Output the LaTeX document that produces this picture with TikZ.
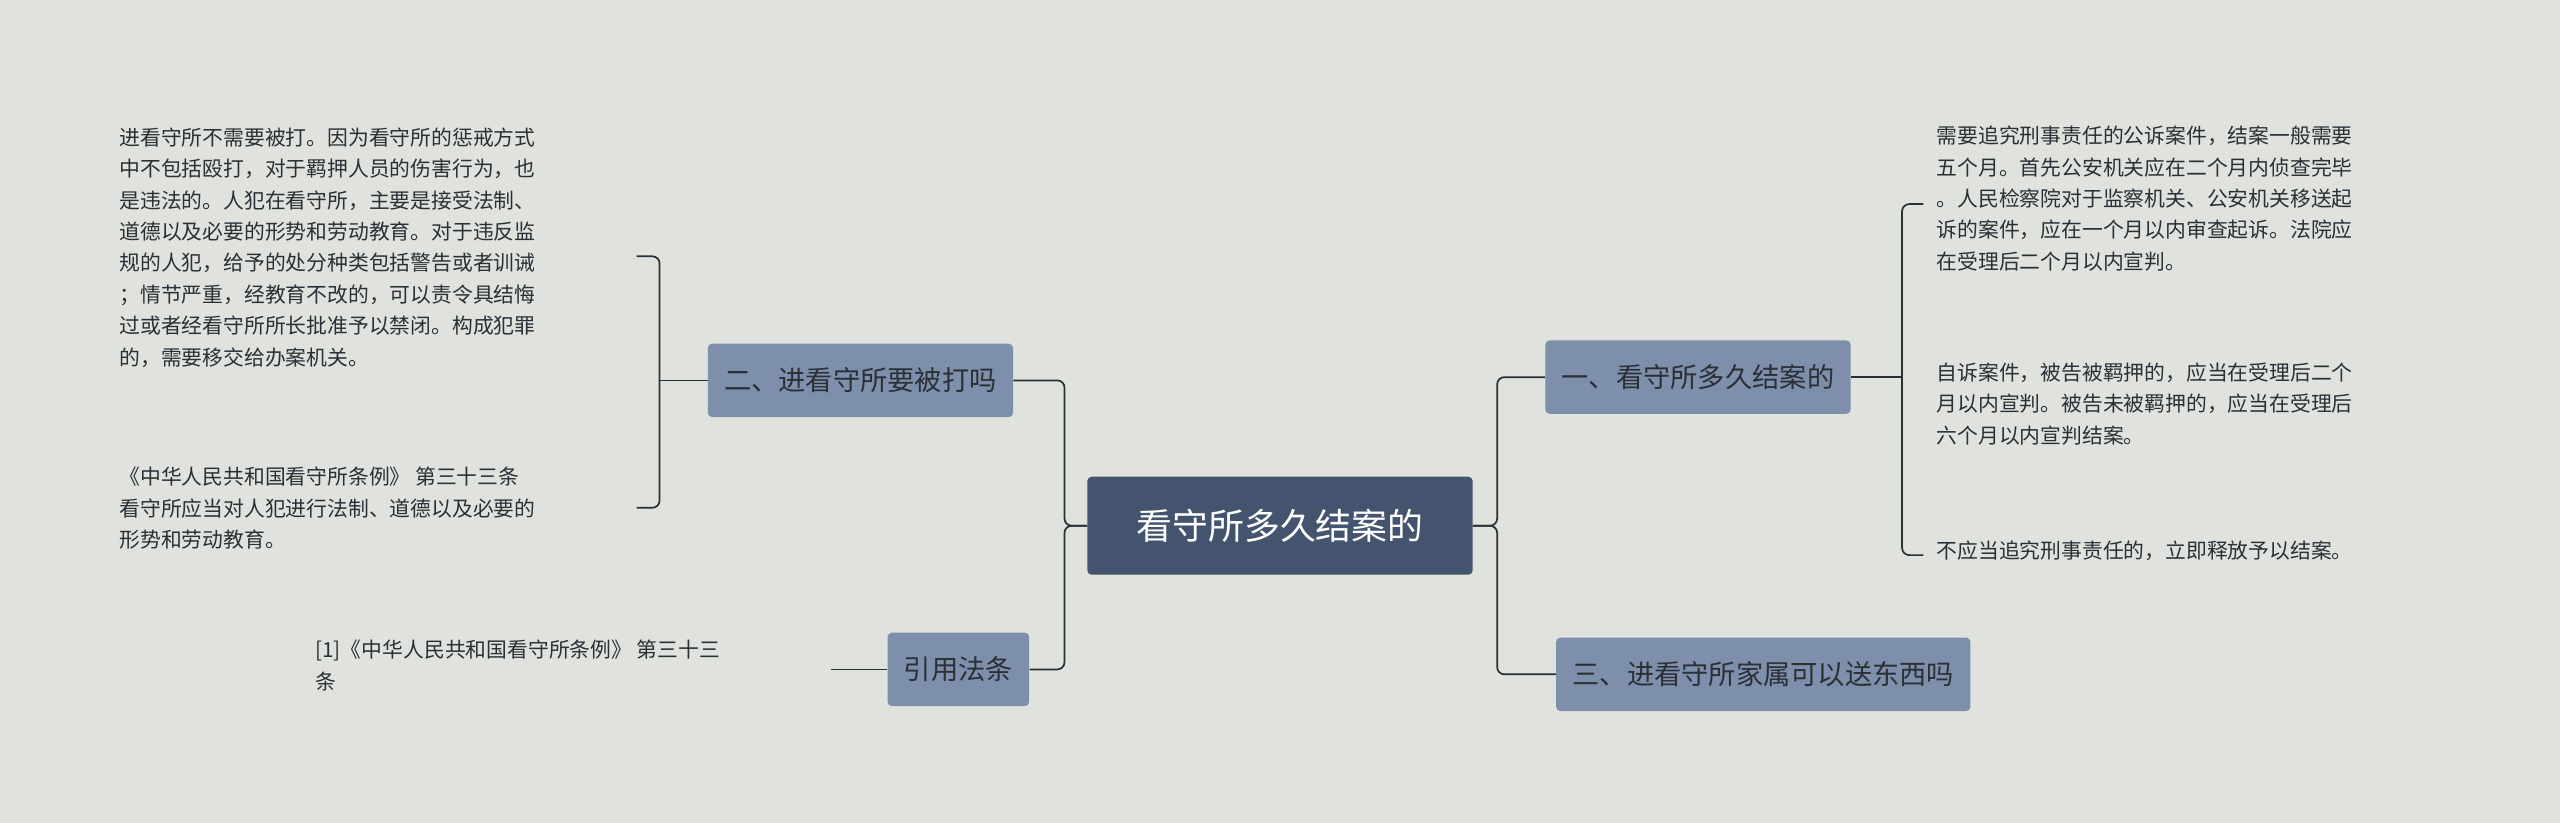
\documentclass[tikz,border=0pt]{standalone}
\usepackage{fontspec}
\setmainfont{Noto Sans CJK SC}
\usetikzlibrary{positioning}
\definecolor{bgc}{HTML}{E0E2DD}
\definecolor{rootc}{HTML}{44546E}
\definecolor{subc}{HTML}{7D8FAB}
\definecolor{txtc}{HTML}{2B2F36}
\definecolor{linec}{HTML}{2B2F36}
\begin{document}
\begin{tikzpicture}[x=0.4mm,y=-0.4mm]

\tikzstyle{root}=[fill=rootc,text=white,rounded corners=3,minimum width=236*0.4mm,minimum height=60*0.4mm,font=\fontsize{25}{28}\selectfont]
\tikzstyle{sub}=[fill=subc,text=txtc,rounded corners=3,minimum height=45*0.4mm,inner xsep=4mm,font=\fontsize{19}{22}\selectfont]
\tikzstyle{leaf}=[anchor=north west,inner sep=0,align=left,text=txtc,font=\fontsize{14.5}{21.9}\selectfont]
\tikzstyle{conn}=[draw=linec,line width=1.2pt,rounded corners=5]

\fill[bgc] (0,0) rectangle (1568,504);

\node[root] (kan) at (784,322) {看守所多久结案的};
\node[sub] (beida) at (527,233) {二、进看守所要被打吗};
\node[sub] (fatiao) at (587,410) {引用法条};
\node[sub] (jiean) at (1040,231) {一、看守所多久结案的};
\node[sub] (songdx) at (1080,413) {三、进看守所家属可以送东西吗};

% left leaves
\node[leaf] (bd1) at (73,78) {进看守所不需要被打。因为看守所的惩戒方式\\中不包括殴打，对于羁押人员的伤害行为，也\\是违法的。人犯在看守所，主要是接受法制、\\道德以及必要的形势和劳动教育。对于违反监\\规的人犯，给予的处分种类包括警告或者训诫\\；情节严重，经教育不改的，可以责令具结悔\\过或者经看守所所长批准予以禁闭。构成犯罪\\的，需要移交给办案机关。};
\node[leaf] (bd2) at (73,286) {《中华人民共和国看守所条例》 第三十三条\\看守所应当对人犯进行法制、道德以及必要的\\形势和劳动教育。};
\node[leaf] (ft1) at (193,392) {[1]《中华人民共和国看守所条例》 第三十三\\条};

% right leaves
\node[leaf] (ja1) at (1186,77) {需要追究刑事责任的公诉案件，结案一般需要\\五个月。首先公安机关应在二个月内侦查完毕\\。人民检察院对于监察机关、公安机关移送起\\诉的案件，应在一个月以内审查起诉。法院应\\在受理后二个月以内宣判。};
\node[leaf] (ja2) at (1186,222) {自诉案件，被告被羁押的，应当在受理后二个\\月以内宣判。被告未被羁押的，应当在受理后\\六个月以内宣判结案。};
\node[leaf] (ja3) at (1186,331) {不应当追究刑事责任的，立即释放予以结案。};

% root connectors
\draw[conn] (kan.west) -- (652,322) |- (beida.east);
\draw[conn] (kan.west) -- (652,322) |- (fatiao.east);
\draw[conn] (kan.east) -- (917,322) |- (jiean.east -| jiean.west);
\draw[conn] (kan.east) -- (917,322) |- (songdx.west);

% brackets
\draw[conn] (beida.west) -- (404,233);
\draw[conn] (390,157) -- (404,157) -- (404,311) -- (390,311);
\draw[conn] (fatiao.west) -- (509,410);
\draw[conn] (jiean.east) -- (1165,231);
\draw[conn] (1178,125) -- (1165,125) -- (1165,340) -- (1178,340);
\end{tikzpicture}
\end{document}
